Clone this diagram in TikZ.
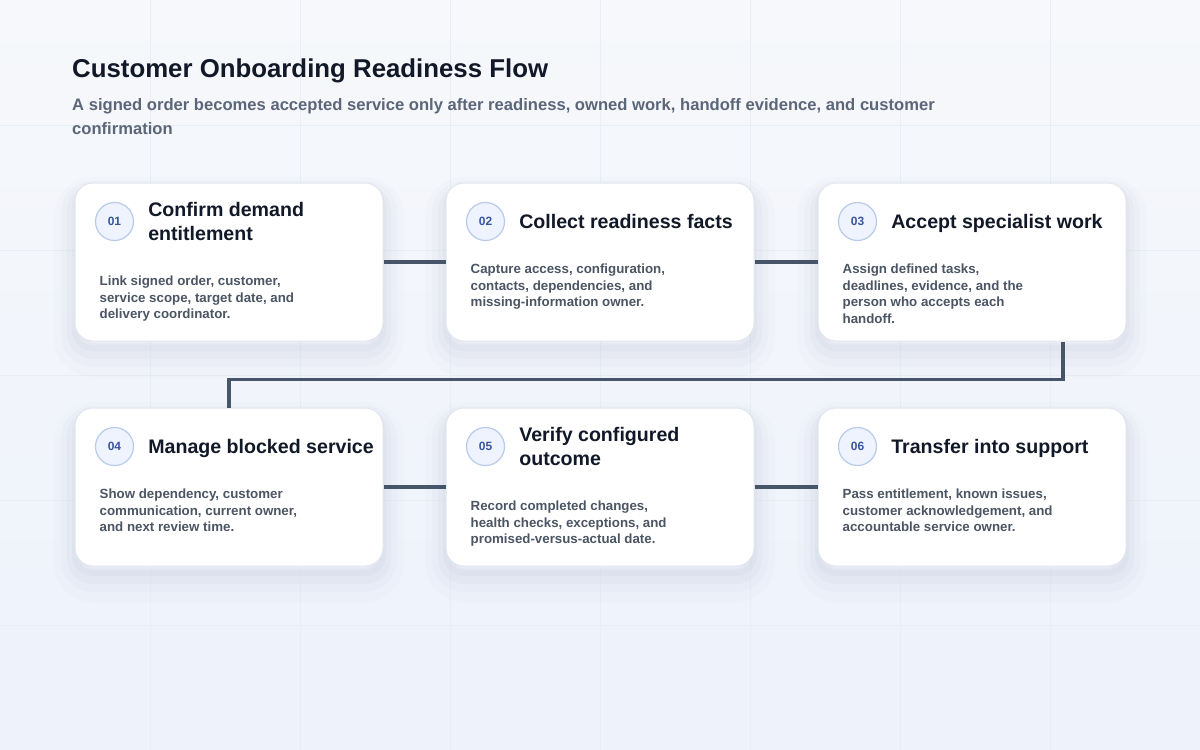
\documentclass[tikz,border=0pt]{standalone}
\usepackage{fontspec}
\setmainfont{Liberation Sans}
\usetikzlibrary{positioning}

\definecolor{flowink}{HTML}{111827}
\definecolor{flowmuted}{HTML}{5B6678}
\definecolor{flowtext}{HTML}{4B5563}
\definecolor{flowline}{HTML}{475569}
\definecolor{flowbadgefill}{HTML}{EEF3FD}
\definecolor{flowbadgeline}{HTML}{B8CBEB}
\definecolor{flowbadgetext}{HTML}{3A55A0}
\definecolor{flowbgtop}{HTML}{F6F8FB}
\definecolor{flowbgbot}{HTML}{EDF2FB}
\definecolor{flowgrid}{HTML}{E9EDF4}
\definecolor{flowedge}{HTML}{E1E6EE}
\definecolor{flowshade}{HTML}{7F8CA8}

\newcommand\flowheadstyle{\fontsize{25.8}{30}\selectfont\bfseries}
\newcommand\flowsubstyle{\fontsize{16.6}{24}\selectfont\bfseries}
\newcommand\flowtitlestyle{\fontsize{19.6}{24}\selectfont\bfseries}
\newcommand\flowbodystyle{\fontsize{13.3}{16.5}\selectfont\bfseries}
\newcommand\flownumstyle{\fontsize{12}{14}\selectfont\bfseries}

\tikzset{
  flowcard/.style={draw=flowedge, line width=1pt, fill=white, rounded corners=18pt,
    minimum width=308pt, minimum height=158pt, inner sep=0pt,
    preaction={draw=flowshade, draw opacity=0.02, line width=42pt, transform canvas={yshift=-15pt}},
    preaction={draw=flowshade, draw opacity=0.03, line width=28pt, transform canvas={yshift=-12pt}},
    preaction={draw=flowshade, draw opacity=0.045, line width=16pt, transform canvas={yshift=-10pt}},
    preaction={draw=flowshade, draw opacity=0.05, line width=6pt, transform canvas={yshift=-7pt}}},
  flowbadge/.style={circle, draw=flowbadgeline, line width=1.2pt, fill=flowbadgefill,
    minimum size=38pt, inner sep=0pt, text=flowbadgetext, font=\flownumstyle},
  flowtitle/.style={inner sep=0pt, align=left, text depth=0pt, text=flowink, font=\flowtitlestyle},
  flowbody/.style={inner sep=0pt, align=left, text=flowtext, font=\flowbodystyle, anchor=north west},
  flowlink/.style={draw=flowline, line width=3.6pt},
}

% card: name, placement, number, title, text
\newcommand\flowcard[5]{
  \node[flowcard, #2] (#1) {};
  \node[flowbadge] (#1num) at ([xshift=40pt, yshift=-39pt]#1.north west) {#3};
  \node[flowtitle, right=14pt of #1num] (#1title) {#4};
  \coordinate (#1corner) at (#1.west |- #1title.south);
  \node[flowbody] (#1body) at ([xshift=25pt, yshift=-35pt]#1corner) {#5};
}

\begin{document}
\begin{tikzpicture}[x=1pt, y=-1pt]
  \useasboundingbox (0,0) rectangle (1200,750);
  \shade[top color=flowbgtop, bottom color=flowbgbot] (0,0) rectangle (1200,750);
  \foreach \gx in {150,300,...,1050}
    \draw[flowgrid, line width=1pt] (\gx,0) -- (\gx,750);
  \foreach \gy in {125,250,...,625}
    \draw[flowgrid, line width=1pt] (0,\gy) -- (1200,\gy);

  \node[anchor=base west, inner sep=0pt, text=flowink, font=\flowheadstyle] (head) at (72,77)
    {Customer Onboarding Readiness Flow};
  \node[anchor=north west, inner sep=0pt, align=left, text=flowmuted, font=\flowsubstyle] (sub) at (72,98)
    {A signed order becomes accepted service only after readiness, owned work, handoff evidence, and customer\\
     confirmation};

  \flowcard{c1}{at={(229,262)}}{01}{Confirm demand\\entitlement}
    {Link signed order, customer,\\service scope, target date, and\\delivery coordinator.}
  \flowcard{c2}{right=62pt of c1}{02}{Collect readiness facts}
    {Capture access, configuration,\\contacts, dependencies, and\\missing-information owner.}
  \flowcard{c3}{right=63pt of c2}{03}{Accept specialist work}
    {Assign defined tasks,\\deadlines, evidence, and the\\person who accepts each\\handoff.}
  \flowcard{c4}{below=66pt of c1}{04}{Manage blocked service}
    {Show dependency, customer\\communication, current owner,\\and next review time.}
  \flowcard{c5}{right=62pt of c4}{05}{Verify configured\\outcome}
    {Record completed changes,\\health checks, exceptions, and\\promised-versus-actual date.}
  \flowcard{c6}{right=63pt of c5}{06}{Transfer into support}
    {Pass entitlement, known issues,\\customer acknowledgement, and\\accountable service owner.}

  \draw[flowlink] (c1) -- (c2);
  \draw[flowlink] (c2) -- (c3);
  \draw[flowlink] ([xshift=91pt]c3.south) -- ++(0,38) -| (c4.north);
  \draw[flowlink] (c4) -- (c5);
  \draw[flowlink] (c5) -- (c6);
\end{tikzpicture}
\end{document}
